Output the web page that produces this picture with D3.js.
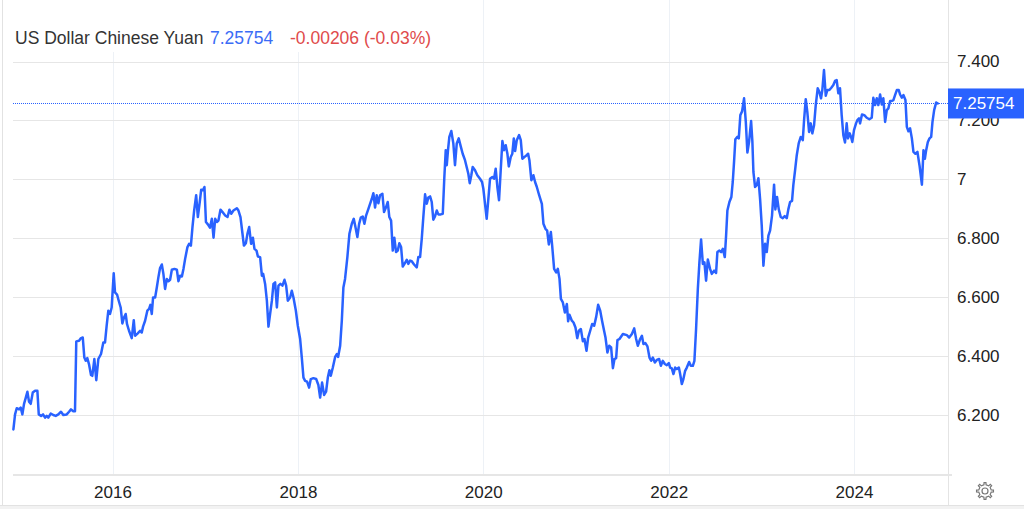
<!DOCTYPE html>
<html>
<head>
<meta charset="utf-8">
<script src="https://cdn.jsdelivr.net/npm/d3@7"></script>
<style>
  html, body { margin: 0; padding: 0; background: #ffffff; }
  svg { display: block; }
  text { font-family: "Liberation Sans", Arial, Helvetica, sans-serif; }
</style>
</head>
<body>
<svg id="chart" width="1024" height="509"></svg>
<script>
// ---- DATA (decimal-year dates, USD/CNY close) ----
const dates = [
  2014.930,2014.948,2014.966,2014.991,
  2015.009,2015.027,2015.045,2015.064,2015.081,2015.099,2015.117,2015.139,2015.164,2015.189,2015.204,2015.229,2015.250,2015.272,2015.290,2015.307,2015.333,2015.361,2015.387,2015.415,2015.444,2015.469,2015.506,2015.531,2015.552,2015.577,2015.595,2015.609,2015.639,2015.660,2015.679,2015.696,2015.711,2015.728,2015.746,2015.768,2015.782,2015.804,2015.825,2015.847,2015.876,2015.901,2015.919,2015.937,2015.955,2015.973,2015.991,
  2016.013,2016.027,2016.049,2016.067,2016.088,2016.106,2016.124,2016.142,2016.156,2016.178,2016.207,2016.229,2016.243,2016.272,2016.297,2016.315,2016.329,2016.351,2016.375,2016.394,2016.408,2016.423,2016.437,2016.459,2016.477,2016.494,2016.512,2016.531,2016.548,2016.566,2016.585,2016.602,2016.620,2016.639,2016.667,2016.693,2016.710,2016.728,2016.747,2016.764,2016.782,2016.807,2016.825,2016.844,2016.861,2016.879,2016.901,2016.919,2016.937,2016.955,2016.973,2016.990,
  2017.006,2017.027,2017.049,2017.070,2017.088,2017.106,2017.124,2017.141,2017.163,2017.185,2017.214,2017.239,2017.260,2017.279,2017.303,2017.340,2017.357,2017.379,2017.400,2017.416,2017.437,2017.454,2017.473,2017.494,2017.513,2017.530,2017.552,2017.567,2017.591,2017.610,2017.624,2017.645,2017.664,2017.681,2017.699,2017.718,2017.735,2017.753,2017.772,2017.789,2017.810,2017.832,2017.854,2017.872,2017.890,2017.915,2017.933,2017.951,2017.977,2017.998,
  2018.023,2018.041,2018.059,2018.077,2018.098,2018.120,2018.138,2018.166,2018.196,2018.220,2018.239,2018.260,2018.282,2018.303,2018.322,2018.339,2018.354,2018.376,2018.401,2018.419,2018.433,2018.455,2018.473,2018.490,2018.508,2018.533,2018.555,2018.581,2018.602,2018.624,2018.641,2018.660,2018.678,2018.699,2018.717,2018.735,2018.760,2018.778,2018.797,2018.814,2018.832,2018.850,2018.868,2018.886,2018.911,2018.929,2018.951,2018.969,2018.986,
  2019.005,2019.023,2019.040,2019.059,2019.077,2019.094,2019.113,2019.131,2019.153,2019.174,2019.191,2019.210,2019.228,2019.253,2019.282,2019.299,2019.318,2019.336,2019.353,2019.372,2019.390,2019.407,2019.426,2019.444,2019.461,2019.479,2019.498,2019.515,2019.541,2019.563,2019.580,2019.595,2019.606,2019.620,2019.634,2019.655,2019.677,2019.695,2019.714,2019.735,2019.757,2019.778,2019.803,2019.821,2019.839,2019.854,2019.871,2019.886,2019.911,2019.936,2019.965,2019.987,
  2020.001,2020.019,2020.037,2020.055,2020.073,2020.098,2020.116,2020.134,2020.152,2020.170,2020.188,2020.206,2020.224,2020.242,2020.260,2020.275,2020.296,2020.313,2020.329,2020.343,2020.361,2020.386,2020.404,2020.421,2020.443,2020.461,2020.483,2020.497,2020.518,2020.540,2020.558,2020.577,2020.602,2020.631,2020.648,2020.670,2020.688,2020.706,2020.728,2020.742,2020.763,2020.785,2020.803,2020.821,2020.836,2020.857,2020.879,2020.900,2020.914,2020.928,2020.954,2020.972,2020.993,
  2021.012,2021.030,2021.051,2021.073,2021.090,2021.112,2021.130,2021.152,2021.173,2021.195,2021.217,2021.238,2021.260,2021.281,2021.303,2021.317,2021.338,2021.357,2021.378,2021.397,2021.414,2021.432,2021.446,2021.468,2021.505,2021.548,2021.573,2021.602,2021.627,2021.648,2021.666,2021.691,2021.710,2021.727,2021.748,2021.770,2021.792,2021.810,2021.828,2021.850,2021.871,2021.896,2021.915,2021.936,2021.958,2021.979,
  2022.001,2022.015,2022.033,2022.051,2022.069,2022.087,2022.109,2022.123,2022.141,2022.158,2022.177,2022.195,2022.220,2022.238,2022.260,2022.277,2022.295,2022.314,2022.331,2022.349,2022.368,2022.385,2022.403,2022.422,2022.446,2022.465,2022.490,2022.511,2022.525,2022.547,2022.565,2022.584,2022.605,2022.619,2022.633,2022.655,2022.676,2022.691,2022.705,2022.719,2022.741,2022.756,2022.773,2022.792,2022.813,2022.832,2022.849,2022.867,2022.889,2022.903,2022.914,2022.932,2022.950,2022.968,2022.986,
  2023.004,2023.022,2023.040,2023.058,2023.076,2023.094,2023.115,2023.137,2023.151,2023.169,2023.188,2023.209,2023.231,2023.252,2023.274,2023.291,2023.310,2023.331,2023.345,2023.364,2023.382,2023.403,2023.425,2023.447,2023.461,2023.479,2023.496,2023.515,2023.533,2023.550,2023.569,2023.587,2023.608,2023.626,2023.644,2023.658,2023.676,2023.695,2023.712,2023.734,2023.755,2023.777,2023.795,2023.813,2023.831,2023.849,2023.867,2023.885,2023.903,2023.921,2023.935,2023.954,2023.968,2023.982,
  2024.000,2024.022,2024.036,2024.054,2024.065,2024.086,2024.111,2024.137,2024.165,2024.191,2024.208,2024.227,2024.245,2024.262,2024.281,2024.299,2024.316,2024.335,2024.353,2024.370,2024.389,2024.407,2024.424,2024.442,2024.461,2024.482,2024.496,2024.515,2024.532,2024.554,2024.569,2024.586,2024.604,2024.623,2024.640,2024.661,2024.683,2024.705,2024.731,2024.748,2024.763,2024.777,2024.795,2024.813,2024.831,2024.845,2024.863,2024.885,2024.903
];
const values = [
  6.151,6.202,6.223,6.219,
  6.225,6.202,6.238,6.259,6.279,6.245,6.238,6.276,6.282,6.282,6.202,6.197,6.202,6.191,6.197,6.191,6.205,6.200,6.197,6.202,6.211,6.200,6.202,6.211,6.219,6.213,6.213,6.450,6.452,6.461,6.463,6.395,6.384,6.393,6.373,6.336,6.333,6.390,6.318,6.390,6.407,6.446,6.446,6.503,6.554,6.543,6.565,
  6.681,6.616,6.609,6.588,6.565,6.511,6.531,6.543,6.509,6.486,6.461,6.522,6.469,6.477,6.486,6.480,6.500,6.520,6.554,6.560,6.574,6.543,6.599,6.599,6.633,6.667,6.699,6.711,6.679,6.628,6.662,6.654,6.659,6.693,6.696,6.693,6.654,6.673,6.670,6.696,6.730,6.770,6.781,6.775,6.838,6.894,6.946,6.872,6.917,6.965,6.963,6.974,
  6.855,6.847,6.836,6.866,6.802,6.866,6.855,6.860,6.897,6.889,6.877,6.872,6.897,6.883,6.894,6.902,6.894,6.872,6.817,6.775,6.783,6.815,6.838,6.781,6.802,6.764,6.758,6.738,6.736,6.673,6.679,6.645,6.588,6.500,6.543,6.588,6.645,6.650,6.565,6.639,6.645,6.639,6.659,6.639,6.588,6.599,6.622,6.599,6.554,6.503,
  6.458,6.395,6.327,6.316,6.313,6.293,6.322,6.325,6.322,6.302,6.259,6.310,6.268,6.279,6.327,6.352,6.333,6.361,6.397,6.407,6.397,6.435,6.520,6.633,6.662,6.736,6.815,6.849,6.866,6.832,6.804,6.849,6.870,6.874,6.849,6.877,6.900,6.917,6.934,6.953,6.904,6.946,6.919,6.946,6.951,6.889,6.906,6.923,6.872,
  6.860,6.758,6.802,6.753,6.758,6.783,6.770,6.704,6.715,6.727,6.713,6.724,6.722,6.711,6.701,6.736,6.736,6.798,6.872,6.949,6.917,6.938,6.942,6.923,6.863,6.874,6.894,6.881,6.881,6.883,7.008,7.099,7.048,7.101,7.144,7.164,7.122,7.048,7.122,7.139,7.112,7.087,7.065,7.042,7.019,6.987,7.014,7.042,7.031,7.014,7.002,6.991,
  6.968,6.917,6.866,6.934,7.002,7.008,7.002,7.036,6.974,6.929,7.031,7.130,7.099,7.116,7.087,7.044,7.076,7.087,7.139,7.096,7.133,7.150,7.133,7.070,7.076,7.080,7.087,7.065,6.997,7.014,6.991,6.974,6.946,6.917,6.849,6.832,6.826,6.779,6.821,6.775,6.696,6.684,6.696,6.662,6.594,6.582,6.548,6.577,6.518,6.540,6.520,6.514,6.497,
  6.461,6.486,6.492,6.450,6.458,6.418,6.463,6.486,6.509,6.503,6.534,6.574,6.554,6.518,6.484,6.463,6.412,6.435,6.429,6.359,6.390,6.393,6.454,6.458,6.475,6.471,6.463,6.475,6.494,6.458,6.435,6.458,6.469,6.441,6.444,6.433,6.395,6.384,6.395,6.378,6.387,6.390,6.367,6.384,6.373,6.369,
  6.376,6.361,6.358,6.339,6.361,6.356,6.361,6.339,6.305,6.322,6.350,6.361,6.380,6.367,6.367,6.384,6.492,6.628,6.718,6.796,6.713,6.718,6.656,6.728,6.696,6.679,6.690,6.682,6.753,6.758,6.753,6.764,6.736,6.809,6.894,6.923,6.940,6.991,7.059,7.136,7.144,7.139,7.218,7.231,7.275,7.195,7.091,7.127,7.198,7.127,7.025,6.974,6.980,7.004,6.934,
  6.843,6.707,6.781,6.753,6.809,6.826,6.877,6.982,6.898,6.940,6.898,6.872,6.868,6.875,6.868,6.898,6.923,6.927,6.980,7.031,7.082,7.122,7.144,7.133,7.201,7.272,7.229,7.161,7.190,7.156,7.184,7.252,7.309,7.297,7.275,7.303,7.371,7.284,7.303,7.303,7.311,7.320,7.334,7.337,7.292,7.309,7.218,7.150,7.125,7.190,7.139,7.156,7.144,7.127,
  7.167,7.190,7.201,7.207,7.190,7.220,7.218,7.209,7.204,7.209,7.277,7.252,7.275,7.252,7.288,7.254,7.275,7.195,7.235,7.241,7.266,7.266,7.269,7.286,7.303,7.303,7.288,7.277,7.286,7.269,7.178,7.163,7.173,7.139,7.093,7.087,7.093,7.048,6.982,7.099,7.070,7.099,7.127,7.139,7.144,7.195,7.235,7.261,7.25754
];
const xTickYears = [2016, 2018, 2020, 2022, 2024];
const yTickValues = [6.2, 6.4, 6.6, 6.8, 7.0, 7.2, 7.4];
const yTickLabels = ["6.200", "6.400", "6.600", "6.800", "7", "7.200", "7.400"];
const titleName = "US Dollar Chinese Yuan";
const lastValueText = "7.25754";
const changeText = "-0.00206 (-0.03%)";

// ---- helpers ----
function decYearToDate(d) {
  const y = Math.floor(d);
  const a = Date.UTC(y, 0, 1), b = Date.UTC(y + 1, 0, 1);
  return new Date(a + (d - y) * (b - a));
}
const data = dates.map((d, i) => ({ date: decYearToDate(d), value: values[i] }));

// ---- layout ----
const W = 1024, H = 509;
const plotLeft = 13, plotRight = 948, axisY = 475;
const svg = d3.select("#chart");

const x = d3.scaleUtc()
  .domain([new Date(Date.UTC(2016, 0, 1)), new Date(Date.UTC(2024, 0, 1))])
  .range([112.5, 854]);
const y = d3.scaleLinear().domain([6.2, 7.4]).range([415, 61.5]);

// frame
svg.append("rect").attr("x", 0).attr("y", 0).attr("width", W).attr("height", H).attr("fill", "#fff");
svg.append("rect").attr("x", 0).attr("y", 505).attr("width", W).attr("height", 4).attr("fill", "#f2f2f2");
svg.append("line").attr("x1", 0).attr("x2", W).attr("y1", 505.5).attr("y2", 505.5).attr("stroke", "#e2e2e2");
svg.append("line").attr("x1", 2.5).attr("x2", 2.5).attr("y1", 0).attr("y2", 505).attr("stroke", "#e2e2e2");

// vertical grid
svg.append("g").selectAll("line").data(xTickYears).join("line")
  .attr("x1", d => Math.round(x(new Date(Date.UTC(d, 0, 1)))) + 0.5)
  .attr("x2", d => Math.round(x(new Date(Date.UTC(d, 0, 1)))) + 0.5)
  .attr("y1", 0).attr("y2", axisY)
  .attr("stroke", "#edf1f6").attr("stroke-width", 1);

// horizontal grid
svg.append("g").selectAll("line").data(yTickValues).join("line")
  .attr("x1", plotLeft).attr("x2", plotRight)
  .attr("y1", d => Math.round(y(d)) + 0.5).attr("y2", d => Math.round(y(d)) + 0.5)
  .attr("stroke", "#e6e6e6").attr("stroke-width", 1.2);

// right separator
svg.append("line").attr("x1", 948.5).attr("x2", 948.5).attr("y1", 0).attr("y2", 505)
  .attr("stroke", "#e4e4e4");
// bottom axis line
svg.append("line").attr("x1", plotLeft).attr("x2", 952).attr("y1", axisY).attr("y2", axisY)
  .attr("stroke", "#e6e6e6").attr("stroke-width", 2);

// title background (covers grid near title)
svg.append("rect").attr("x", 4).attr("y", 0).attr("width", 445).attr("height", 52).attr("fill", "#fff");

// x axis labels
const xAxis = d3.axisBottom(x)
  .tickValues(xTickYears.map(yr => new Date(Date.UTC(yr, 0, 1))))
  .tickFormat(d3.utcFormat("%Y"))
  .tickSize(0).tickPadding(0);
const gx = svg.append("g").attr("transform", `translate(0,${axisY})`).call(xAxis);
gx.select(".domain").remove();
gx.selectAll("text").attr("dy", null).attr("y", 23)
  .style("font-size", "17px").style("font-family", '"Liberation Sans", Arial, sans-serif')
  .attr("fill", "#222");

// y axis labels
const yAxis = d3.axisRight(y)
  .tickValues(yTickValues)
  .tickFormat((d, i) => yTickLabels[i])
  .tickSize(0).tickPadding(0);
const gy = svg.append("g").attr("transform", "translate(957,0)").call(yAxis);
gy.select(".domain").remove();
gy.selectAll("text").attr("x", 0).attr("dy", "0.32em")
  .style("font-size", "17px").style("font-family", '"Liberation Sans", Arial, sans-serif')
  .attr("fill", "#222");

// last value dotted line
const lastV = values[values.length - 1];
svg.append("line").attr("x1", plotLeft).attr("x2", plotRight)
  .attr("y1", Math.round(y(lastV)) + 0.5).attr("y2", Math.round(y(lastV)) + 0.5)
  .attr("stroke", "#2962ff").attr("stroke-width", 1).attr("stroke-dasharray", "1,1");

// line
const line = d3.line().x(d => x(d.date)).y(d => y(d.value)).curve(d3.curveLinear);
svg.append("path").datum(data).attr("d", line)
  .attr("fill", "none").attr("stroke", "#2962ff").attr("stroke-width", 2.5)
  .attr("stroke-linejoin", "round").attr("stroke-linecap", "round");

// value badge
const by = y(lastV);
svg.append("rect").attr("x", 948).attr("y", by - 15).attr("width", 76).attr("height", 30).attr("fill", "#2962ff");
svg.append("text").attr("x", 953).attr("y", by).attr("dy", "0.35em")
  .attr("fill", "#fff").style("font-size", "17px").text(lastValueText);

// title
const t = svg.append("text").attr("y", 44).style("font-size", "17.5px");
t.append("tspan").attr("x", 15).attr("fill", "#333").text(titleName);
t.append("tspan").attr("x", 210).attr("fill", "#3b6cf6").text(lastValueText);
t.append("tspan").attr("x", 290).attr("fill", "#e04b4b").text(changeText);

// gear icon
(function () {
  const cx = 985, cy = 491, teeth = 8, rO = 8.5, rI = 6.3;
  const pts = [];
  for (let i = 0; i < teeth; i++) {
    const a0 = (i / teeth) * 2 * Math.PI;
    const step = 2 * Math.PI / teeth;
    [[-0.22, rI], [-0.14, rO], [0.14, rO], [0.22, rI]].forEach(([f, r]) => {
      const a = a0 + f * step;
      pts.push([cx + r * Math.cos(a), cy + r * Math.sin(a)]);
    });
  }
  svg.append("path").attr("d", d3.line().curve(d3.curveLinearClosed)(pts))
    .attr("fill", "none").attr("stroke", "#777").attr("stroke-width", 1.2);
  svg.append("circle").attr("cx", cx).attr("cy", cy).attr("r", 3)
    .attr("fill", "none").attr("stroke", "#777").attr("stroke-width", 1.2);
})();
</script>
</body>
</html>
